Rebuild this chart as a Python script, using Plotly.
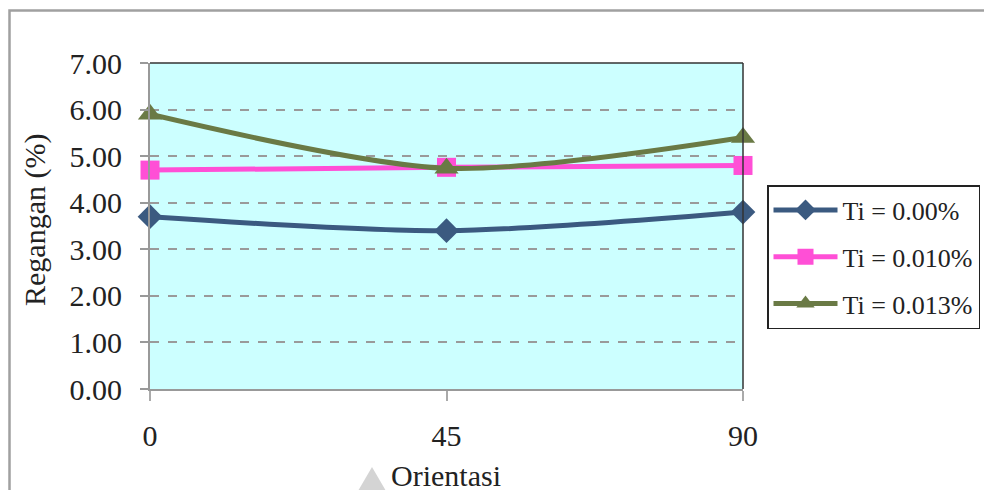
import plotly.graph_objects as go

orientation = [0, 45, 90]
ti_000 = [3.70, 3.40, 3.80]
ti_010 = [4.70, 4.76, 4.80]
ti_013 = [5.90, 4.74, 5.40]
series_names = ["Ti = 0.00%", "Ti = 0.010%", "Ti = 0.013%"]
y_ticks = [0, 1, 2, 3, 4, 5, 6, 7]

W, H = 984, 490
L, R, T, B = 150, 743, 63, 389

def px(x):
    return (x - L) / (R - L)

def py(y):
    return (B - y) / (B - T)

FONT = "Liberation Serif, Times New Roman, serif"
TXT = "#222222"

fig = go.Figure()
styles = [
    ("#3b5a80", "diamond", 19),
    ("#ff4fd6", "square", 19),
    ("#6a7a45", "triangle-up", 21),
]
for i, (ys, name) in enumerate(zip([ti_000, ti_010, ti_013], series_names)):
    c, sym, sz = styles[i]
    fig.add_trace(go.Scatter(
        x=orientation, y=ys, name=name, mode="lines+markers",
        line=dict(color=c, width=5, shape="spline", smoothing=0.8),
        marker=dict(color=c, symbol=sym, size=sz),
        cliponaxis=False, legendgroup=f"g{i}",
    ))

fig.update_layout(
    width=W, height=H,
    margin=dict(l=L, r=W - R, t=T, b=H - B, pad=0, autoexpand=False),
    paper_bgcolor="white", plot_bgcolor="#ccffff",
    font=dict(family=FONT, color=TXT),
    showlegend=True,
    legend=dict(
        x=px(767), y=py(185), xanchor="left", yanchor="top",
        bgcolor="white", bordercolor="#222222", borderwidth=1.5,
        font=dict(size=26, family=FONT, color=TXT),
        tracegroupgap=10, itemwidth=64,
    ),
    xaxis=dict(
        range=[0, 90], tickvals=orientation, ticktext=[str(v) for v in orientation],
        showgrid=False, zeroline=False,
        showline=True, linecolor="#999999", linewidth=2,
        ticks="outside", ticklen=10, tickcolor="#aaaaaa", tickwidth=2,
        tickfont=dict(size=30, family=FONT, color=TXT), ticklabelstandoff=9,
    ),
    yaxis=dict(
        range=[0, 7], tickvals=y_ticks, ticktext=[f"{v:.2f}" for v in y_ticks],
        showgrid=True, gridcolor="#9a9a9a", griddash="dash", gridwidth=1.5,
        zeroline=False,
        showline=True, linecolor="#999999", linewidth=2,
        ticks="outside", ticklen=8, tickcolor="#999999", tickwidth=2,
        tickfont=dict(size=30, family=FONT, color=TXT), ticklabelstandoff=12,
    ),
)

# plot area top/right dark border
fig.add_shape(type="line", xref="paper", yref="paper", x0=0, x1=1, y0=1, y1=1,
              line=dict(color="#333333", width=1.5))
fig.add_shape(type="line", xref="paper", yref="paper", x0=1, x1=1, y0=0, y1=1,
              line=dict(color="#333333", width=1.5))
# outer chart border
fig.add_shape(type="rect", xref="paper", yref="paper",
              x0=px(9.5), x1=px(1000), y0=py(10.5), y1=py(520),
              line=dict(color="#a0a0a0", width=2.5), layer="below")
# grey triangle artifact near axis title
fig.add_shape(type="path", xref="paper", yref="paper",
              path=f"M {px(358)} {py(491)} L {px(372)} {py(467)} L {px(386)} {py(491)} Z",
              fillcolor="#d4d4d4", line=dict(width=0))

fig.add_annotation(text="Orientasi", xref="paper", yref="paper",
                   x=px(446), y=py(475), xanchor="center", yanchor="middle",
                   showarrow=False,
                   font=dict(size=30, family=FONT, color=TXT))
fig.add_annotation(text="Regangan (%)", xref="paper", yref="paper",
                   x=px(35), y=py(220), xanchor="center", yanchor="middle",
                   showarrow=False, textangle=-90,
                   font=dict(size=30, family=FONT, color=TXT))

fig.write_html("out.html")
